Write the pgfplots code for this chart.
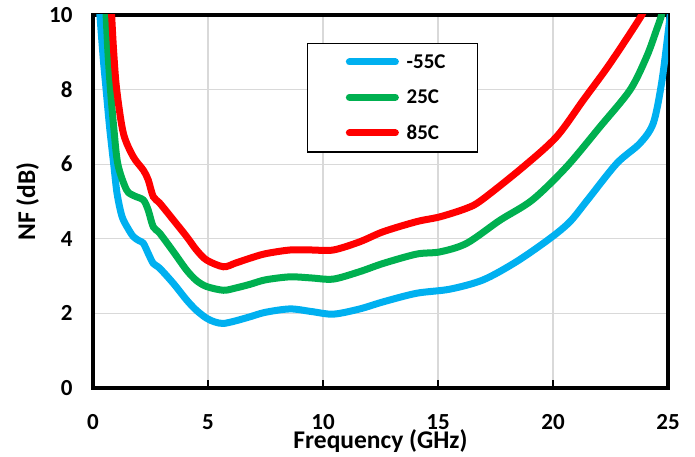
\documentclass[border=0pt]{standalone}
\usepackage{fontspec}
\setmainfont{Carlito}
\usepackage{pgfplots}
\pgfplotsset{compat=1.18}
\definecolor{cblue}{HTML}{00B0F0}
\definecolor{cgreen}{HTML}{00B050}
\definecolor{cred}{HTML}{FF0000}
\definecolor{cgrid}{HTML}{D9D9D9}
\begin{document}
\begin{tikzpicture}
\begin{axis}[
  scale only axis, width=575pt, height=373pt,
  xmin=0, xmax=25, ymin=0, ymax=10,
  xtick={0,5,10,15,20,25}, ytick={0,2,4,6,8,10},
  grid=major, grid style={cgrid, line width=1.3pt},
  axis line style={line width=4pt, black},
  tick align=inside, xtick pos=bottom, ytick pos=left,
  major tick length=8pt,
  x tick style={black, line width=1.3pt},
  y tick style={draw=none},
  /pgf/number format/assume math mode=true,
  tick label style={font=\bfseries\fontsize{23}{27}\selectfont},
  xticklabel style={inner sep=0pt, yshift=-26pt},
  yticklabel style={xshift=-17pt},
  xlabel={Frequency (GHz)}, ylabel={NF (dB)},
  label style={font=\bfseries\fontsize{25.5}{29}\selectfont},
  xlabel style={at={(axis description cs:0.5,-0.1115)}, anchor=north, inner sep=0pt},
  ylabel style={at={(axis description cs:-0.088,0.5)}, anchor=south},
  legend cell align=left,
  legend style={at={(0.3717,0.9257)}, anchor=north west, draw=black, line width=1.3pt,
    font=\bfseries\fontsize{21}{25}\selectfont, inner xsep=30pt, inner ysep=9pt,
    row sep=16pt, column sep=5.8pt, nodes={inner sep=2pt}},
  legend image code/.code={\path (0pt,0pt); \draw[line width=7pt, line cap=round] (8.5pt,0pt) -- (54.5pt,0pt);},
]
\addplot[cblue, line width=7pt, smooth, tension=0.5] coordinates {
(0.28,10.3)(0.30,10.0)(0.45,8.8)(0.57,8.0)(0.72,7.0)(0.9,6.0)(1.05,5.2)(1.26,4.6)(1.5,4.3)(1.75,4.06)(2.0,3.95)(2.19,3.88)(2.4,3.61)(2.62,3.34)(2.9,3.21)(3.5,2.8)(4.07,2.36)(4.5,2.08)(4.94,1.87)(5.3,1.77)(5.67,1.73)(6.2,1.80)(6.83,1.91)(7.5,2.03)(8.57,2.12)(9.5,2.05)(10.45,1.98)(11.6,2.12)(12.62,2.31)(14.07,2.54)(15.52,2.65)(16.97,2.9)(18.42,3.39)(19.87,4.01)(20.74,4.46)(21.5,5.04)(22.77,6.02)(23.78,6.56)(24.36,7.1)(24.72,8.17)(25.0,9.5)(25.15,10.3)
};
\addlegendentry{-55C}
\addplot[cgreen, line width=7pt, smooth, tension=0.5] coordinates {
(0.55,10.3)(0.57,10.0)(0.65,9.0)(0.76,8.0)(0.9,7.0)(1.08,6.0)(1.46,5.31)(1.8,5.15)(2.19,5.04)(2.4,4.77)(2.62,4.32)(2.9,4.15)(3.5,3.65)(4.07,3.16)(4.5,2.88)(4.94,2.72)(5.67,2.62)(6.2,2.68)(6.83,2.78)(7.5,2.9)(8.57,2.98)(9.5,2.95)(10.45,2.92)(11.6,3.12)(12.62,3.34)(14.07,3.59)(15.09,3.65)(16.25,3.88)(17.7,4.5)(19.1,5.04)(20.59,5.93)(22.04,7.0)(23.35,7.99)(24.07,8.88)(24.5,9.6)(24.72,10.0)(24.8,10.3)
};
\addlegendentry{25C}
\addplot[cred, line width=7pt, smooth, tension=0.5] coordinates {
(0.79,10.3)(0.81,10.0)(0.9,9.0)(1.03,8.0)(1.32,6.83)(1.75,6.2)(2.19,5.84)(2.4,5.58)(2.62,5.13)(2.91,4.95)(3.5,4.5)(4.07,4.06)(4.5,3.7)(4.94,3.43)(5.67,3.25)(6.2,3.35)(6.83,3.48)(7.5,3.6)(8.57,3.7)(9.5,3.7)(10.45,3.7)(11.6,3.92)(12.62,4.19)(14.07,4.46)(15.09,4.59)(16.25,4.82)(16.9,5.04)(18.71,5.93)(20.16,6.74)(21.32,7.72)(22.48,8.7)(23.86,10.0)(24.0,10.3)
};
\addlegendentry{85C}
\end{axis}
\pgfresetboundingbox
\useasboundingbox (-93pt,-69pt) rectangle (602pt,388pt);
\end{tikzpicture}
\end{document}
